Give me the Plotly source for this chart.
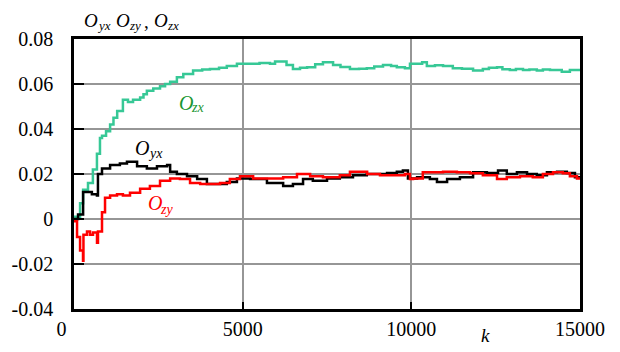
import plotly.graph_objects as go

# Sample index k and running estimates of the three cross-coupling coefficients
k_zx = [0, 60, 180, 270, 415, 560, 680, 770, 830, 950, 1070, 1170, 1280, 1450, 1600,
        1750, 1960, 2060, 2160, 2350, 2550, 2700, 2850, 3050, 3240, 3530, 3800, 4030,
        4300, 4530, 4830, 5220, 5500, 5810, 5960, 6170, 6300, 6490, 6700, 6910, 7150,
        7380, 7680, 7900, 8180, 8450, 8680, 8900, 9160, 9400, 9570, 9810, 9960, 10170,
        10320, 10460, 10700, 10940, 11230, 11500, 11830, 12120, 12300, 12540, 12700,
        12920, 13100, 13310, 13500, 13720, 13900, 14110, 14460, 14700, 15000]
o_zx = [0.001, 0.001, 0.007, 0.013, 0.016, 0.022, 0.029, 0.036, 0.037, 0.039, 0.042,
        0.045, 0.048, 0.053, 0.052, 0.053, 0.054, 0.0555, 0.057, 0.058, 0.059, 0.060,
        0.061, 0.063, 0.0645, 0.066, 0.0665, 0.0667, 0.0672, 0.068, 0.069, 0.069,
        0.0693, 0.069, 0.070, 0.070, 0.0685, 0.0667, 0.0672, 0.0675, 0.0688, 0.0697,
        0.0684, 0.0676, 0.0667, 0.0668, 0.067, 0.0678, 0.0684, 0.068, 0.0675, 0.067,
        0.069, 0.069, 0.0697, 0.068, 0.0683, 0.068, 0.067, 0.0668, 0.066, 0.0667,
        0.0672, 0.0675, 0.0666, 0.0662, 0.0667, 0.0662, 0.0665, 0.066, 0.0664, 0.0662,
        0.0654, 0.0662, 0.0662]

k_yx = [0, 60, 120, 240, 270, 420, 530, 680, 710, 830, 1070, 1360, 1570, 1870, 2160,
        2460, 2760, 2850, 3050, 3350, 3650, 3940, 4240, 4530, 4830, 5220, 5720, 6200,
        6490, 6790, 7080, 7500, 7880, 8270, 8680, 9280, 9570, 9750, 9900, 10170,
        10550, 10760, 11060, 11440, 11830, 12240, 12570, 12830, 13130, 13430, 13720,
        14020, 14320, 14610, 14850, 15000]
o_yx = [0.0, 0.0, 0.002, 0.002, 0.012, 0.012, 0.011, 0.0104, 0.020, 0.0225, 0.024,
        0.0247, 0.0255, 0.0234, 0.0225, 0.0234, 0.024, 0.021, 0.020, 0.019, 0.0178,
        0.0156, 0.0156, 0.0165, 0.018, 0.0178, 0.016, 0.0147, 0.0156, 0.0178, 0.017,
        0.018, 0.0186, 0.0195, 0.020, 0.0205, 0.021, 0.0216, 0.018, 0.0186, 0.0178,
        0.0165, 0.0178, 0.0186, 0.0208, 0.0205, 0.0216, 0.020, 0.0208, 0.020, 0.0195,
        0.0208, 0.021, 0.0205, 0.0186, 0.018]

k_zy = [0, 60, 90, 180, 267, 280, 385, 474, 563, 682, 711, 830, 920, 1070, 1275,
        1450, 1660, 1960, 2250, 2550, 2850, 3140, 3440, 3740, 4030, 4330, 4620, 4920,
        5310, 5720, 6200, 6610, 7000, 7380, 7880, 8180, 8480, 8690, 9070, 9460, 9810,
        9960, 10050, 10340, 10640, 10940, 11350, 11740, 12120, 12540, 12830, 13220,
        13600, 13900, 14200, 14490, 14700, 14910, 15000]
o_zy = [-0.001, -0.001, -0.008, -0.014, -0.0185, -0.007, -0.0055, -0.007, -0.006,
        -0.0105, -0.0055, 0.003, 0.0095, 0.0104, 0.011, 0.0104, 0.0117, 0.0134,
        0.0147, 0.017, 0.018, 0.0178, 0.016, 0.0156, 0.0156, 0.016, 0.0178, 0.019,
        0.018, 0.018, 0.0186, 0.020, 0.019, 0.0186, 0.0195, 0.021, 0.021, 0.020,
        0.0195, 0.0195, 0.020, 0.0178, 0.018, 0.0208, 0.0208, 0.021, 0.0208, 0.0203,
        0.0195, 0.0178, 0.0186, 0.019, 0.0186, 0.020, 0.0208, 0.0203, 0.019, 0.018, 0.018]

x_ticks = [0, 5000, 10000, 15000]
x_tick_text = ["0" + "\u00a0" * 5, "5000", "10000", "15000"]
y_ticks = [-0.04, -0.02, 0, 0.02, 0.04, 0.06, 0.08]
y_tick_text = ["-0.04", "-0.02", "0", "0.02", "0.04", "0.06", "0.08"]

SERIF = "Liberation Serif"
GREEN_LINE = "rgb(55,200,150)"
GREEN_TEXT = "rgb(25,150,50)"
RED = "rgb(255,0,0)"

fig = go.Figure()
fig.add_trace(go.Scatter(x=k_zx, y=o_zx, mode="lines", line_shape="hv",
                         line=dict(color=GREEN_LINE, width=2.5)))
fig.add_trace(go.Scatter(x=k_yx, y=o_yx, mode="lines", line_shape="hv",
                         line=dict(color="black", width=2.5)))
fig.add_trace(go.Scatter(x=k_zy, y=o_zy, mode="lines", line_shape="hv",
                         line=dict(color=RED, width=2.5)))

fig.update_layout(
    width=620, height=352, showlegend=False,
    font=dict(family=SERIF, size=20, color="black"),
    margin=dict(l=74, r=40, t=39, b=36),
    paper_bgcolor="white", plot_bgcolor="white",
    xaxis=dict(range=[0, 15000], tickvals=x_ticks, ticktext=x_tick_text,
               showline=True, linecolor="black", linewidth=2.5, mirror=True,
               showgrid=True, gridcolor="rgb(150,150,150)", gridwidth=2,
               zeroline=False, ticks="inside", tickcolor="black", tickwidth=2,
               ticklen=7, tickfont=dict(family=SERIF, size=20, color="black")),
    yaxis=dict(range=[-0.04, 0.08], tickvals=y_ticks, ticktext=y_tick_text,
               showline=True, linecolor="black", linewidth=2.5, mirror=True,
               showgrid=True, gridcolor="rgb(150,150,150)", gridwidth=2,
               zeroline=False, ticks="inside", tickcolor="black", tickwidth=2,
               ticklen=10, ticklabelstandoff=14,
               tickfont=dict(family=SERIF, size=20, color="black")),
)


def italic(size, color="black"):
    return dict(family=SERIF, size=size, color=color, style="italic")


# Axis title above the plot: symbols and their subscripts, placed in pixels
header = [("O", 19, 8, 19), ("yx", 13, 21, 14),
          ("O", 19, 40, 19), ("zy", 13, 53, 14), (",", 19, 68, 18),
          ("O", 19, 78, 19), ("zx", 13, 91, 14)]
for txt, size, dx, dy in header:
    font = italic(size) if txt != "," else dict(family=SERIF, size=size)
    fig.add_annotation(x=0, y=1, xref="paper", yref="paper", xanchor="left",
                       yanchor="middle", xshift=dx, yshift=dy, showarrow=False,
                       text=txt, font=font)

fig.add_annotation(x=1, y=0, xref="paper", yref="paper", xanchor="center",
                   yanchor="top", xshift=-95, yshift=-14, showarrow=False,
                   text="k", font=italic(19))

# Curve labels: (symbol, subscript, color, symbol position, subscript position)
curve_labels = [
    ("zx", GREEN_TEXT, (3053, 0.0515), (3409, 0.0494)),
    ("yx", "black", (1749, 0.0316), (2134, 0.0290)),
    ("zy", RED, (2134, 0.0069), (2490, 0.0043)),
]
for sub, color, (kx, ky), (sx, sy) in curve_labels:
    fig.add_annotation(x=kx, y=ky, xanchor="left", yanchor="middle",
                       showarrow=False, text="O", font=italic(20, color))
    fig.add_annotation(x=sx, y=sy, xanchor="left", yanchor="middle",
                       showarrow=False, text=sub, font=italic(14, color))

fig.write_html("out.html")
